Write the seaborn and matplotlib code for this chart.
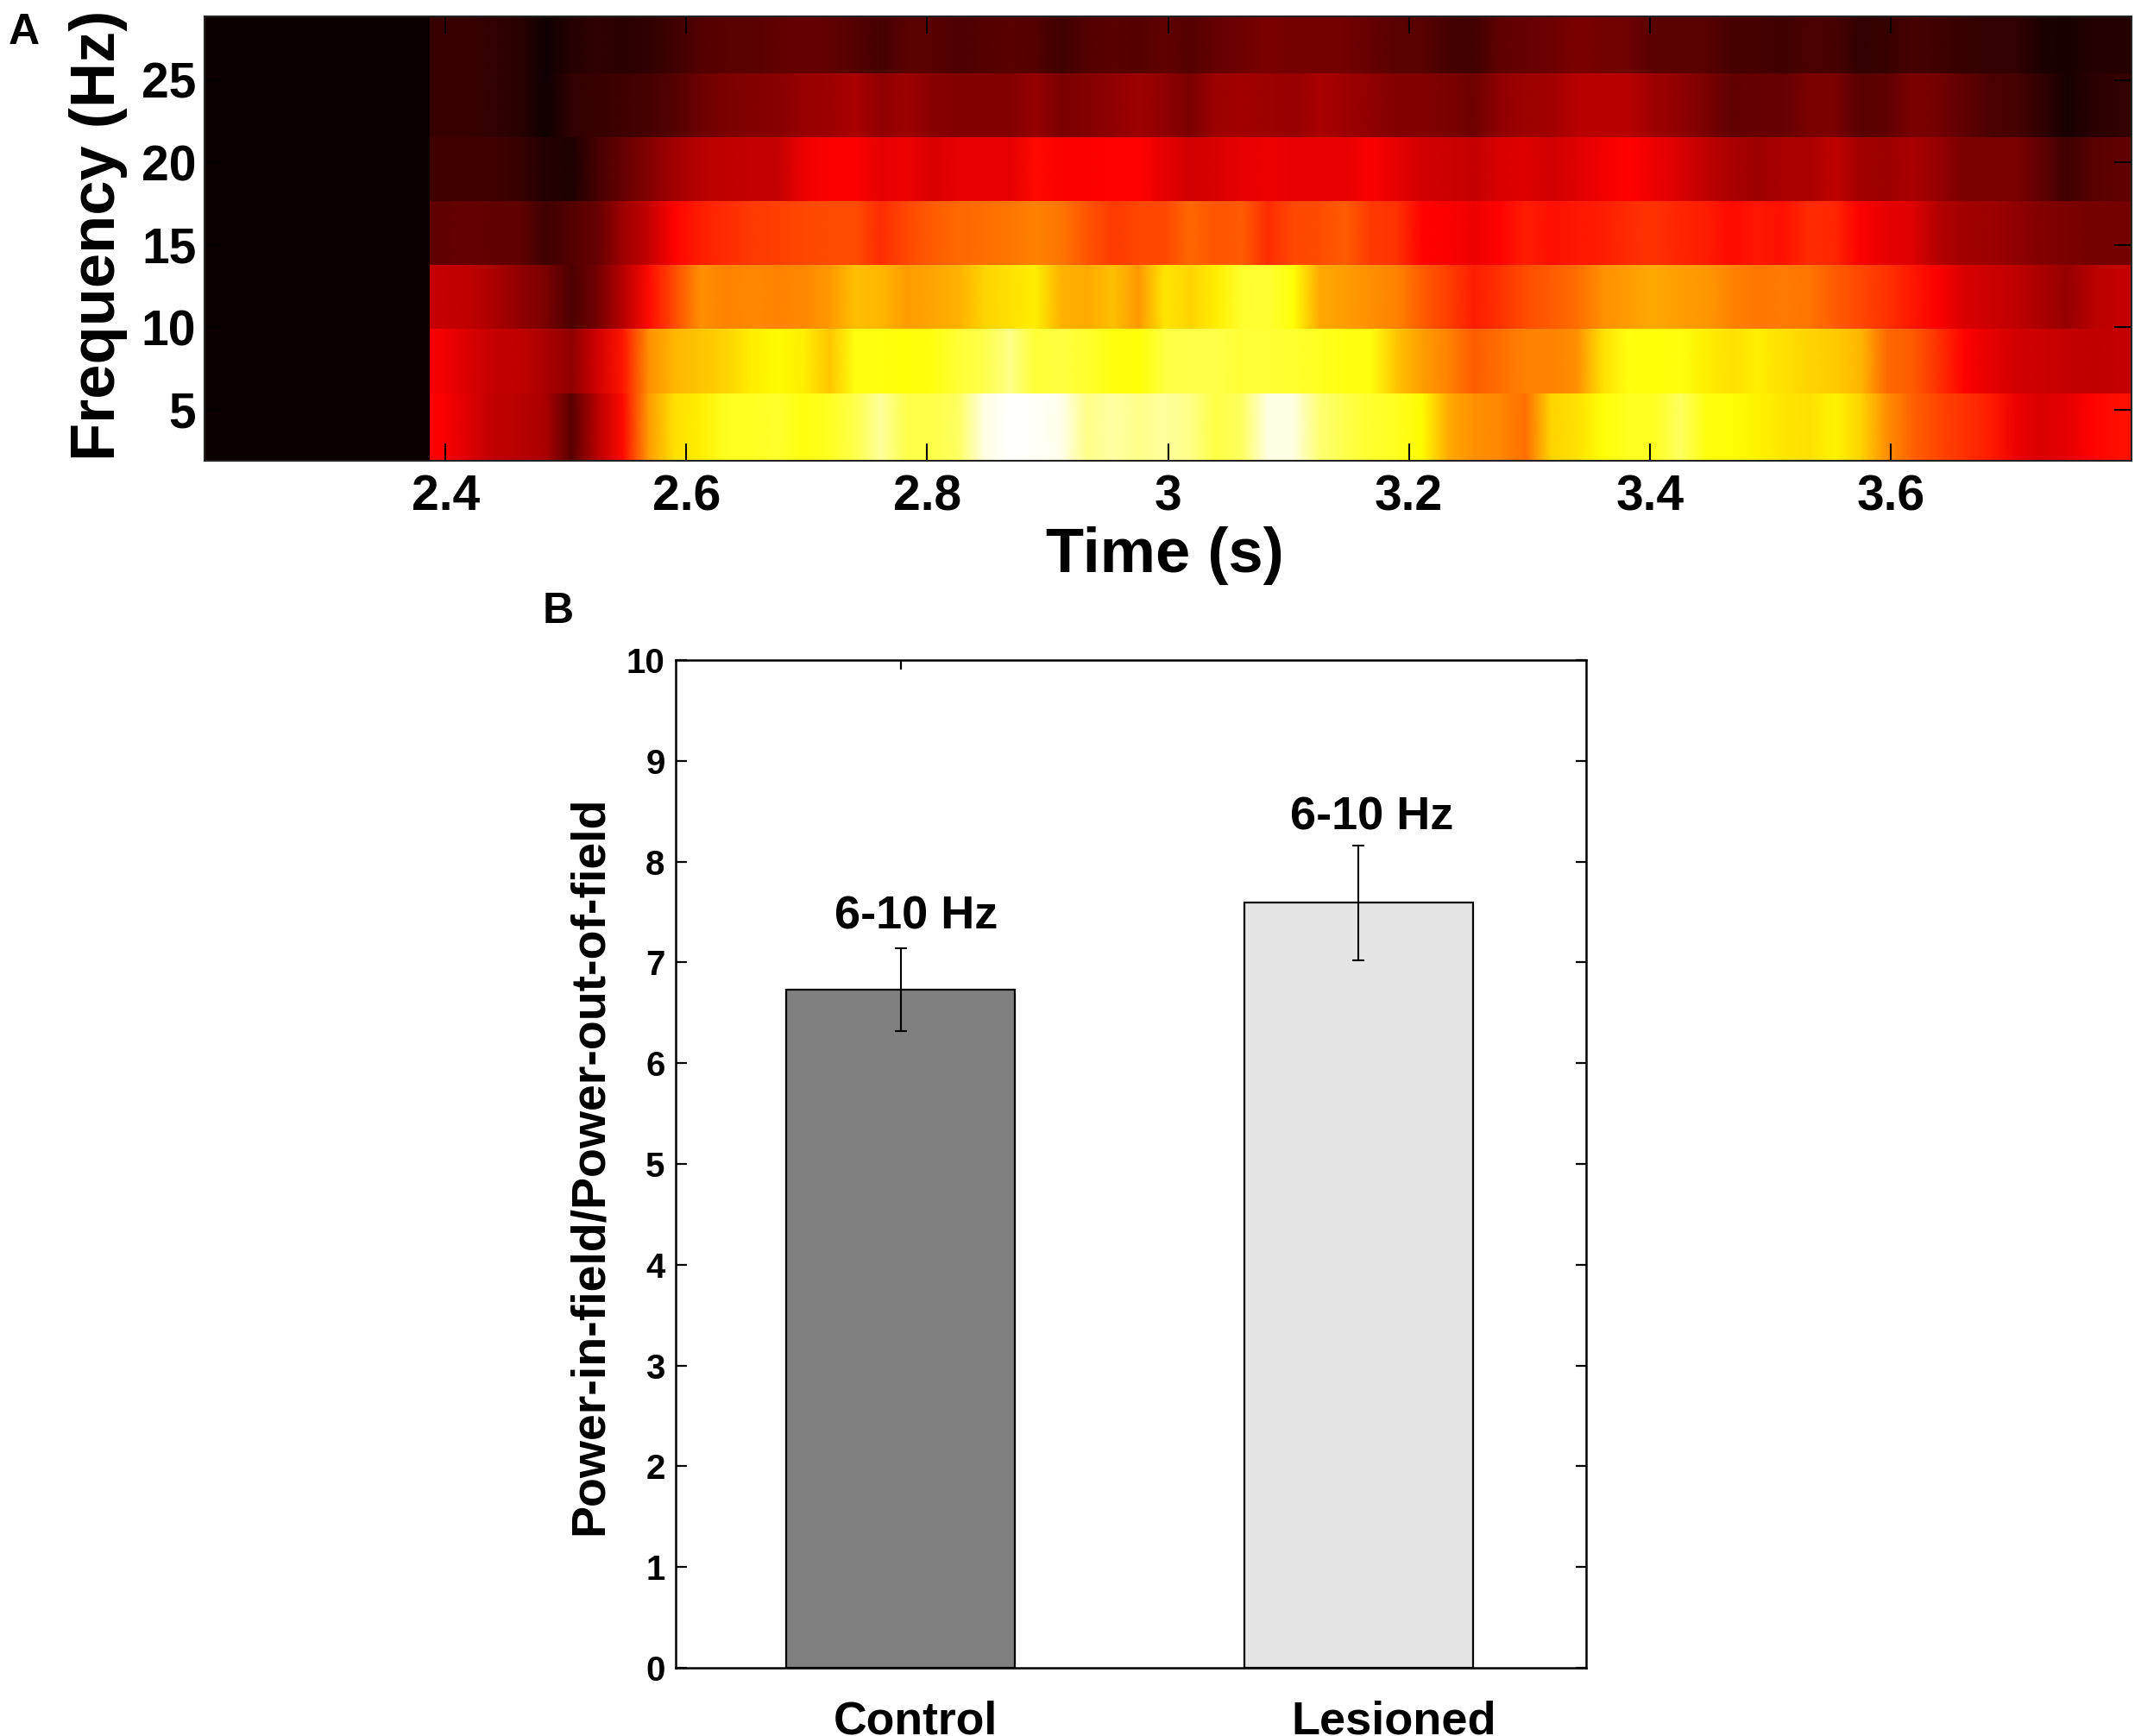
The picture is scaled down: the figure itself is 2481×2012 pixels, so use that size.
import numpy as np
import pandas as pd
import seaborn as sns
import matplotlib.pyplot as plt
from matplotlib.transforms import blended_transform_factory

# spectrogram, hot colour scale in percent, one list per frequency row
row_27 = [7, 7, 6, 5, 1, 4, 6, 5, 6, 8, 11, 12, 12, 13, 14, 13,
          11, 9, 12, 12, 10, 11, 12, 11, 8, 11, 12, 11, 13, 11, 14, 15, 17,
          16, 16, 16, 14, 12, 12, 9, 8, 13, 14, 15, 17, 16, 15, 12, 12, 12,
          9, 9, 8, 10, 9, 6, 7, 9, 8, 7, 6, 6, 3, 2, 4, 4]
row_23 = [7, 7, 6, 5, 1, 6, 7, 8, 9, 11, 15, 17, 18, 19, 21, 22,
          24, 20, 22, 19, 18, 18, 18, 21, 17, 18, 20, 22, 20, 17, 22, 23, 22,
          21, 24, 22, 20, 18, 18, 17, 15, 20, 22, 23, 26, 26, 26, 22, 20, 17,
          13, 14, 14, 17, 17, 12, 13, 17, 16, 13, 10, 9, 6, 2, 5, 6]
row_19 = [8, 8, 8, 7, 4, 3, 9, 14, 18, 23, 26, 27, 28, 28, 34, 36,
          36, 33, 34, 31, 33, 33, 33, 38, 36, 36, 37, 37, 33, 30, 31, 33, 34,
          33, 33, 33, 36, 33, 30, 29, 28, 31, 32, 30, 32, 35, 37, 34, 31, 27,
          24, 22, 24, 24, 27, 23, 22, 24, 21, 17, 17, 17, 13, 8, 12, 13]
row_15 = [13, 14, 13, 13, 8, 11, 14, 22, 28, 37, 41, 43, 45, 46, 47, 48,
          48, 43, 47, 50, 52, 53, 54, 56, 54, 49, 45, 47, 47, 52, 49, 50, 43,
          47, 48, 50, 45, 44, 37, 36, 34, 37, 41, 39, 40, 41, 43, 44, 42, 41,
          38, 40, 39, 43, 42, 36, 33, 32, 25, 23, 22, 20, 18, 17, 16, 16]
row_11 = [28, 27, 24, 20, 17, 10, 16, 26, 38, 48, 58, 56, 57, 56, 57, 59,
          65, 64, 60, 61, 63, 68, 70, 72, 63, 62, 65, 59, 71, 68, 72, 79, 80,
          75, 62, 60, 58, 56, 50, 46, 41, 44, 48, 50, 53, 58, 60, 62, 60, 59,
          56, 54, 55, 54, 50, 47, 44, 40, 36, 31, 29, 27, 24, 21, 26, 28]
row_7 = [35, 31, 28, 27, 24, 20, 30, 40, 58, 64, 66, 68, 72, 74, 72, 66,
         76, 76, 75, 76, 80, 82, 88, 80, 81, 79, 76, 75, 81, 82, 82, 80, 80,
         79, 78, 76, 76, 66, 60, 56, 50, 53, 56, 56, 58, 70, 76, 75, 76, 72,
         70, 72, 70, 68, 67, 64, 52, 50, 44, 37, 33, 30, 29, 28, 27, 28]
row_3 = [36, 32, 27, 26, 24, 12, 26, 38, 60, 70, 72, 78, 78, 79, 76, 78,
         82, 90, 82, 82, 84, 97, 100, 99, 98, 88, 91, 88, 90, 88, 81, 84, 97,
         97, 86, 82, 79, 78, 74, 62, 58, 57, 53, 68, 70, 75, 78, 78, 84, 76,
         75, 73, 71, 70, 73, 68, 58, 51, 47, 44, 41, 34, 31, 33, 37, 39]

freq_labels = ['27.3', '23.4', '19.5', '15.6', '11.7', '7.8', '3.9']
time_ticks = [2.4, 2.6, 2.8, 3.0, 3.2, 3.4, 3.6]
time_tick_labels = ['2.4', '2.6', '2.8', '3', '3.2', '3.4', '3.6']
freq_ticks = [5, 10, 15, 20, 25]

# bar panel
groups = ['Control', 'Lesioned']
ratio = [6.73, 7.59]
err_low = [6.32, 7.02]
err_high = [7.14, 8.16]
bar_colors = ['#808080', '#e5e5e5']
band_label = '6-10 Hz'

sns.set_style('white')
plt.rcParams['font.family'] = ['Liberation Sans', 'DejaVu Sans']
plt.rcParams['font.weight'] = 'bold'
plt.rcParams['axes.labelweight'] = 'bold'
plt.rcParams['text.color'] = 'black'
plt.rcParams['axes.labelcolor'] = 'black'
plt.rcParams['xtick.color'] = 'black'
plt.rcParams['ytick.color'] = 'black'

W, H = 2481, 2012
fig = plt.figure(figsize=(W / 100, H / 100), dpi=100)


def px_axes(left, top, right, bottom):
    return fig.add_axes([left / W, 1 - bottom / H, (right - left) / W, (bottom - top) / H])


# ---- panel A, the spectrogram
spec = pd.DataFrame([row_27, row_23, row_19, row_15, row_11, row_7, row_3], index=freq_labels)
row_edges = [19, 85, 159, 233, 307, 381, 456, 534]  # image rows in pixels
data_left = 498  # first window starts here, all dark before it

# dead time before the first window
ax_dead = px_axes(237, 19, data_left, 534)
sns.heatmap(pd.DataFrame([[0]]), ax=ax_dead, cmap='hot', vmin=0, vmax=100, cbar=False,
            xticklabels=False, yticklabels=False)
ax_dead.set_axis_off()

# one gouraud strip per row: blends along time, stays sharp between the rows
for i, name in enumerate(spec.index):
    vals = list(spec.loc[name])
    strip = pd.DataFrame([vals[:1] + vals + vals[-1:]] * 2)
    ax_row = px_axes(data_left, row_edges[i], 2470, row_edges[i + 1])
    sns.heatmap(strip, ax=ax_row, cmap='hot', vmin=0, vmax=100, cbar=False,
                xticklabels=False, yticklabels=False, shading='gouraud')
    ax_row.set_xlim(0.5, strip.shape[1] - 1.5)
    ax_row.set_ylim(0, 1)
    ax_row.set_axis_off()

# empty frame on top carries the real time and frequency scales
ax_a = px_axes(237, 19, 2470, 534)
ax_a.set_zorder(5)
ax_a.patch.set_visible(False)
ax_a.set_xlim(2.2, 3.8)
ax_a.set_ylim(1.91, 28.87)
ax_a.set_xticks(time_ticks)
ax_a.set_xticklabels(time_tick_labels, fontsize=41, fontweight='bold')
ax_a.set_yticks(freq_ticks)
ax_a.set_yticklabels(freq_ticks, fontsize=41, fontweight='bold')
ax_a.tick_params(axis='x', direction='in', top=True, bottom=True, length=14.5, width=1.5, pad=11)
ax_a.tick_params(axis='y', direction='in', left=True, right=True, length=14.5, width=1.5, pad=7)
for s in ax_a.spines.values():
    s.set_color('#222222')
    s.set_linewidth(1.5)

ax_a.set_xlabel('Time (s)', fontsize=52, fontweight='bold', va='center')
ax_a.xaxis.set_label_coords((1350 - 237) / 2233, -(644 - 534) / 515)
ax_a.set_ylabel('Frequency (Hz)', fontsize=52, fontweight='bold', va='center')
ax_a.yaxis.set_label_coords((114 - 237) / 2233, (534 - 273) / 515)

# ---- panel B, the bars
ax_b = px_axes(783, 765, 1838, 1933)
bars = pd.DataFrame({'group': groups, 'ratio': ratio})
sns.barplot(data=bars, x='group', y='ratio', hue='group', palette=bar_colors, legend=False,
            width=0.5, edgecolor='black', linewidth=1.6, saturation=1, ax=ax_b)
ax_b.errorbar(range(len(groups)), ratio,
              yerr=[np.array(ratio) - np.array(err_low), np.array(err_high) - np.array(ratio)],
              fmt='none', ecolor='black', elinewidth=1.5, capsize=5, capthick=1.5)
ax_b.set_xlim(-0.491, 1.497)
ax_b.set_ylim(0, 10)
ax_b.set_yticks(range(0, 11))
ax_b.set_yticklabels(range(0, 11), fontsize=29, fontweight='bold')
ax_b.set_xticks([0])
ax_b.set_xticklabels([])
ax_b.tick_params(axis='y', direction='in', left=True, right=True, length=9, width=1.6, pad=9)
ax_b.tick_params(axis='x', direction='in', top=True, bottom=False, length=8, width=1.6)
for s in ax_b.spines.values():
    s.set_visible(True)
    s.set_color('black')
    s.set_linewidth(1.8)

ax_b.set_xlabel('')
ax_b.set_ylabel('Power-in-field/Power-out-of-field', fontsize=40, fontweight='bold', va='center')
ax_b.yaxis.set_label_coords((684 - 783) / 1055, (1933 - 1351) / 1168)

# the labels sit a bit right of their bars in the original
ax_b.text(0.034, 7.45, band_label, fontsize=39, fontweight='bold', ha='center', va='center')
ax_b.text(1.03, 8.44, band_label, fontsize=39, fontweight='bold', ha='center', va='center')
under = blended_transform_factory(ax_b.transData, fig.transFigure)
ax_b.text(0.033, 1 - 2010 / H, groups[0], transform=under, fontsize=38.5, fontweight='bold',
          ha='center', va='baseline', clip_on=False)
ax_b.text(1.077, 1 - 2010 / H, groups[1], transform=under, fontsize=39, fontweight='bold',
          ha='center', va='baseline', clip_on=False)

# panel letters
fig.text(10 / W, 1 - 51 / H, 'A', fontsize=36, fontweight='bold')
fig.text(629 / W, 1 - 722 / H, 'B', fontsize=36, fontweight='bold')

fig.savefig('out.png', dpi=100)
